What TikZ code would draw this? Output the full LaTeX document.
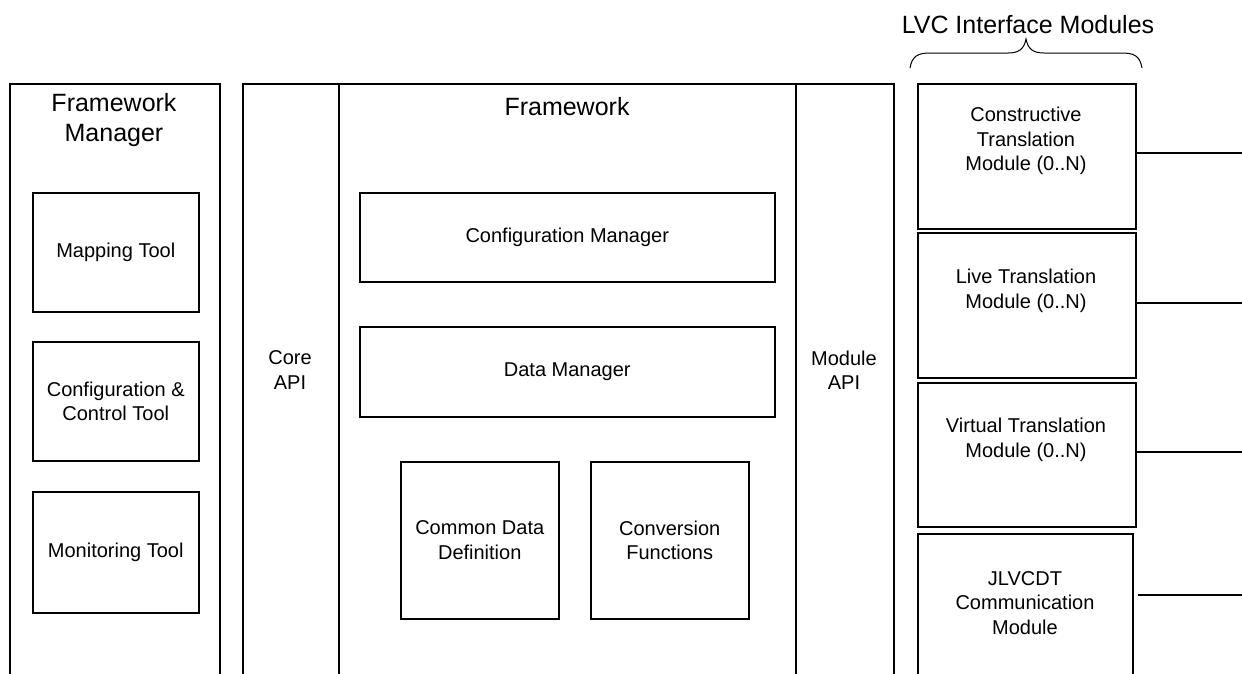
\documentclass[tikz,border=0pt]{standalone}
\usepackage{fontspec}
\setmainfont{Liberation Sans}
\begin{document}
\begin{tikzpicture}[x=1pt,y=-1pt,
  box/.style={draw,line width=1.5pt,rectangle,inner sep=0pt,anchor=north west},
  small/.style={font=\fontsize{20}{24.5}\selectfont,align=center,inner sep=0pt},
  big/.style={font=\fontsize{25}{30}\selectfont,align=center,inner sep=0pt},
  wire/.style={line width=1.5pt},
  bracestyle/.style={line width=1pt}]
\useasboundingbox (0,0) rectangle (1242,673);
\clip (0,0) rectangle (1242,673);

% Framework Manager column and its tools
\node[box,minimum width=210pt,minimum height=640pt] (fm) at (9,83) {};
\node[big] (fmt) at (114,120) {Framework\\Manager};
\node[box,minimum width=166pt,minimum height=119pt] (map) at (32,192) {};
\node[small] at (map.center) {Mapping Tool};
\node[box,minimum width=166pt,minimum height=119pt] (cct) at (32,341) {};
\node[small] at (cct.center) {Configuration \&\\Control Tool};
\node[box,minimum width=166pt,minimum height=121pt] (mon) at (32,491) {};
\node[small] at (mon.center) {Monitoring Tool};

% Framework with Core API and Module API strips
\node[box,minimum width=651pt,minimum height=640pt] (fw) at (242,83) {};
\node[box,minimum width=96pt,minimum height=640pt] (core) at (242,83) {};
\node[box,minimum width=98pt,minimum height=640pt] (mod) at (795,83) {};
\node[small] at (290,370) {Core\\API};
\node[small] at (844,370) {Module\\API};
\node[big] (fwt) at (567,107) {Framework};
\node[box,minimum width=415pt,minimum height=89pt] (cfg) at (359,192) {};
\node[small] at (cfg.center) {Configuration Manager};
\node[box,minimum width=415pt,minimum height=90pt] (dm) at (359,326) {};
\node[small] at (dm.center) {Data Manager};
\node[box,minimum width=158pt,minimum height=157pt] (cdd) at (400,461) {};
\node[small] at (cdd.center) {Common Data\\Definition};
\node[box,minimum width=158pt,minimum height=157pt] (cf) at (590,461) {};
\node[small] at (cf.center) {Conversion\\Functions};

% LVC interface modules
\node[box,minimum width=218pt,minimum height=145pt] (ctm) at (917,83) {};
\node[small] at (1026,141) {Constructive\\Translation\\Module (0..N)};
\node[box,minimum width=218pt,minimum height=145pt] (ltm) at (917,232) {};
\node[small] at (1026,291) {Live Translation\\Module (0..N)};
\node[box,minimum width=218pt,minimum height=144pt] (vtm) at (917,382) {};
\node[small] at (1026,440) {Virtual Translation\\Module (0..N)};
\node[box,minimum width=215pt,minimum height=200pt] (jcm) at (917,533) {};
\node[small] at (1025,603) {JLVCDT\\Communication\\Module};

% links leaving the modules
\coordinate (o1) at (1242,153);
\coordinate (o2) at (1242,303);
\coordinate (o3) at (1242,452);
\coordinate (o4) at (1242,595);
\draw[wire] (ctm.east |- o1) -- (o1);
\draw[wire] (ltm.east |- o2) -- (o2);
\draw[wire] (vtm.east |- o3) -- (o3);
\draw[wire] ([xshift=4pt]jcm.east |- o4) -- (o4);

% brace over the modules
\draw[bracestyle] (910,68) .. controls (912,56) and (918,53) .. (930,53) -- (1008,53)
  .. controls (1019,53) and (1024,49) .. (1026,39)
  .. controls (1028,49) and (1033,53) .. (1044,53) -- (1122,53)
  .. controls (1134,53) and (1140,56) .. (1142,68);
\node[big] (lvc) at (1028,25) {LVC Interface Modules};
\end{tikzpicture}
\end{document}
